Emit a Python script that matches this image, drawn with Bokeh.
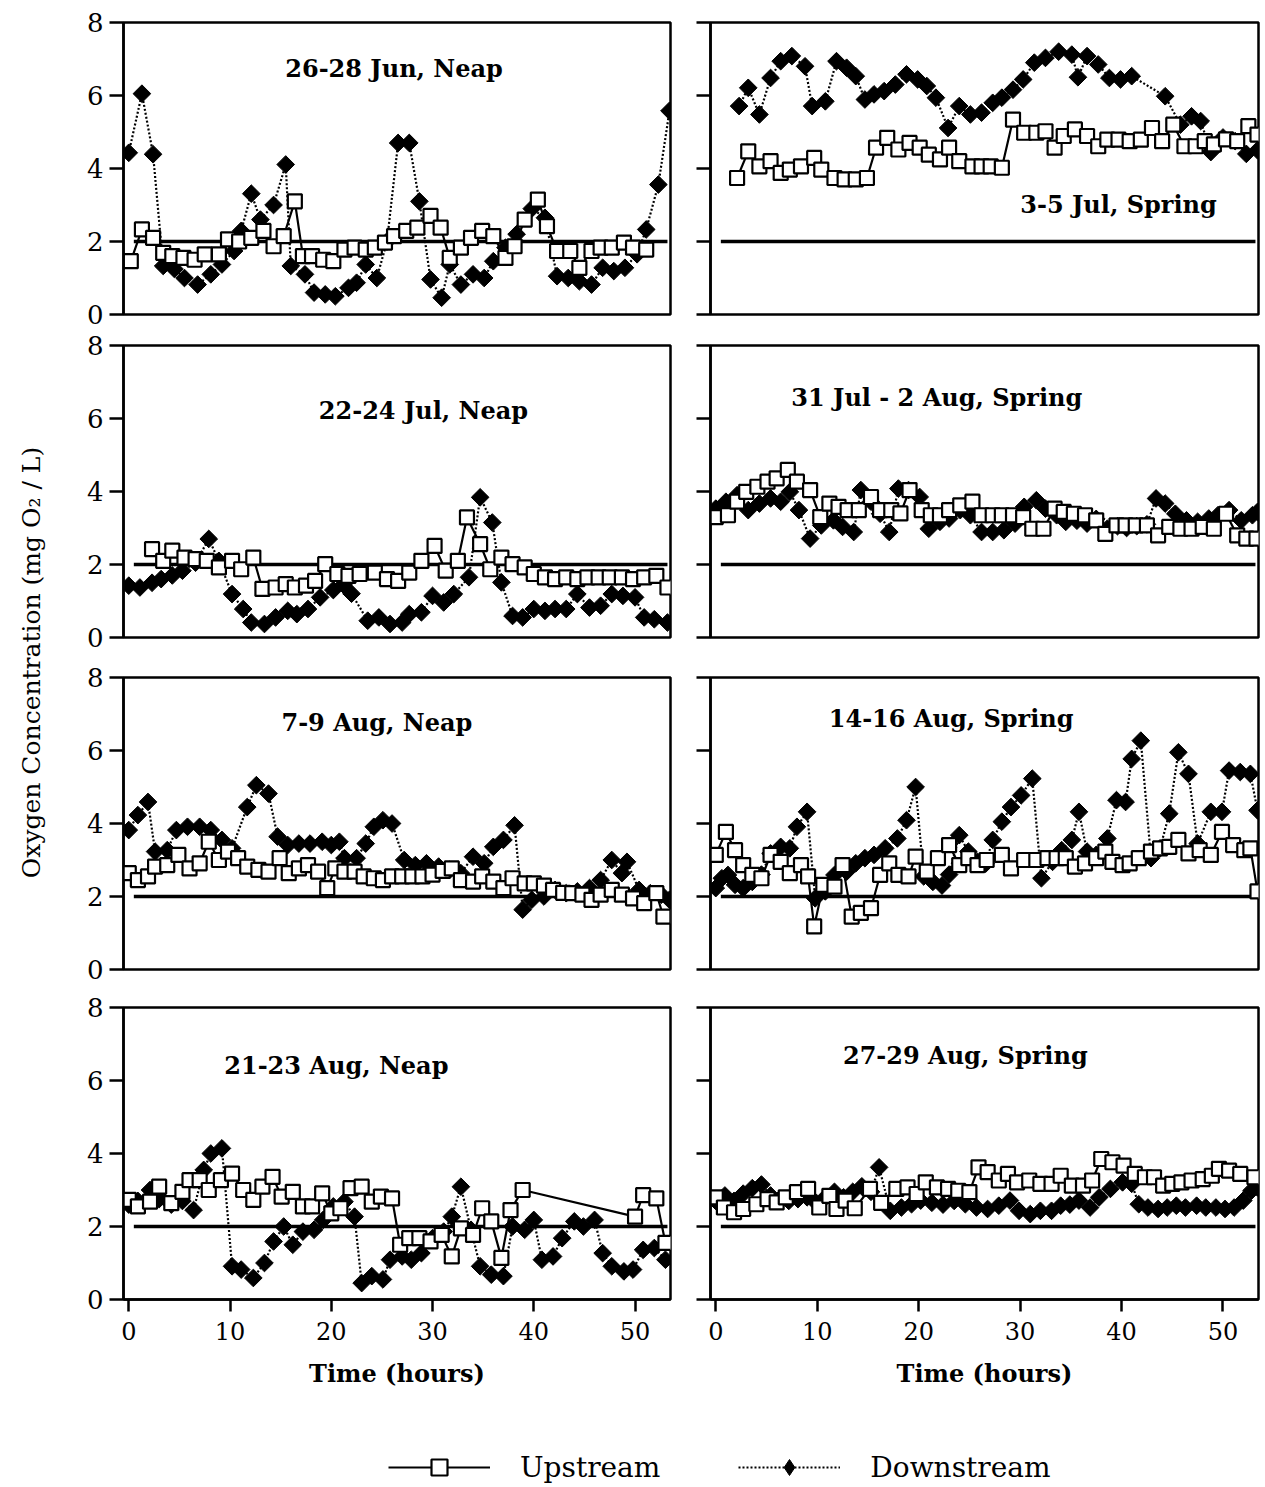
import numpy as np
from bokeh.plotting import figure
from bokeh.layouts import row, column
from bokeh.models import FixedTicker, Label, Legend, LegendItem, Range1d, CustomJSTickFormatter
from bokeh.embed import file_html
from bokeh.resources import INLINE

# ---------------- data ----------------
X_TICKS = [0, 10, 20, 30, 40, 50]
Y_TICKS = [0, 2, 4, 6, 8]
THRESHOLD_T = [0.5, 53.2]
THRESHOLD_V = [2.0, 2.0]

TITLES = ["26-28 Jun, Neap", "3-5 Jul, Spring", "22-24 Jul, Neap", "31 Jul -  2 Aug, Spring",
          "7-9 Aug, Neap", "14-16 Aug, Spring", "21-23 Aug, Neap", "27-29 Aug, Spring"]
Y_TITLE = "Oxygen Concentration (mg O\u2082 / L)"
X_TITLE = "Time (hours)"
SERIES = ["Upstream", "Downstream"]

P1_UP_T = [0.2,1.3,2.4,3.4,4.3,5.4,6.5,7.5,8.9,9.8,10.9,12.1,13.3,14.3,15.3,16.4,17.2,18.1,19.2,20.2,21.3,22.3,23.4,24.3,25.3,26.2,27.4,28.5,29.8,30.8,31.7,32.8,33.8,34.9,36.0,37.2,38.1,39.1,40.4,41.3,42.3,43.6,44.5,45.7,46.6,47.7,48.9,49.8,51.1]
P1_UP_V = [1.46,2.33,2.1,1.69,1.6,1.55,1.5,1.65,1.65,2.06,2.0,2.1,2.29,1.87,2.15,3.1,1.6,1.6,1.5,1.46,1.78,1.83,1.78,1.83,1.97,2.15,2.29,2.38,2.7,2.38,1.55,1.83,2.1,2.29,2.15,1.55,1.87,2.6,3.15,2.42,1.74,1.74,1.28,1.74,1.83,1.83,1.97,1.83,1.78]
P1_DN_T = [0.0,1.3,2.4,3.4,4.5,5.5,6.8,8.1,9.2,10.4,11.1,12.1,13.0,14.3,15.5,16.0,17.4,18.3,19.4,20.4,21.7,22.5,23.4,24.5,25.5,26.6,27.7,28.7,29.8,30.9,31.7,32.8,34.0,35.1,36.0,37.2,38.3,39.8,41.1,42.3,43.4,44.5,45.7,46.8,47.9,49.0,50.2,51.1,52.3,53.4]
P1_DN_V = [4.43,6.05,4.39,1.33,1.25,1.0,0.82,1.1,1.37,1.74,2.29,3.31,2.6,3.0,4.11,1.33,1.1,0.6,0.55,0.5,0.73,0.87,1.37,1.0,2.0,4.7,4.7,3.1,0.96,0.46,1.37,0.82,1.1,1.0,1.46,1.83,2.2,2.9,2.65,1.05,1.0,0.91,0.82,1.28,1.19,1.28,1.65,2.33,3.56,5.58]

P2_UP_T = [2.1,3.2,4.3,5.4,6.4,7.3,8.4,9.7,10.4,11.7,12.7,13.8,14.9,15.8,16.9,18.0,19.1,20.1,21.0,22.1,23.0,24.0,25.3,26.2,27.1,28.2,29.3,30.4,31.6,32.5,33.4,34.3,35.4,36.6,37.7,38.6,39.7,40.8,41.9,43.0,44.0,45.1,46.2,47.3,48.2,49.1,50.3,51.4,52.5,53.4]
P2_UP_V = [3.74,4.47,4.06,4.2,3.88,3.97,4.06,4.29,3.97,3.74,3.7,3.7,3.74,4.57,4.84,4.52,4.7,4.57,4.38,4.25,4.57,4.2,4.06,4.06,4.06,4.02,5.34,4.98,4.98,5.02,4.57,4.89,5.07,4.89,4.61,4.79,4.79,4.75,4.79,5.11,4.75,5.2,4.61,4.61,4.75,4.66,4.8,4.75,5.16,4.93]
P2_DN_T = [2.3,3.2,4.3,5.4,6.4,7.5,8.8,9.5,10.8,11.9,12.9,13.8,14.7,15.6,16.6,17.7,18.8,19.9,20.8,21.7,22.9,24.0,25.1,26.2,27.3,28.2,29.3,30.3,31.4,32.5,33.8,35.1,35.7,36.6,37.7,38.8,39.9,41.0,44.3,45.8,46.9,47.8,48.8,50.0,51.2,52.3,53.4]
P2_DN_V = [5.71,6.21,5.48,6.48,6.94,7.08,6.8,5.71,5.84,6.94,6.76,6.53,5.89,6.03,6.12,6.3,6.58,6.44,6.26,5.94,5.11,5.71,5.48,5.53,5.8,5.94,6.16,6.44,6.9,7.03,7.2,7.12,6.5,7.08,6.85,6.48,6.44,6.53,5.98,5.2,5.43,5.3,4.45,4.85,4.75,4.4,4.5]

P3_UP_T = [2.3,3.4,4.3,5.5,6.6,7.7,8.9,10.2,11.1,12.3,13.2,14.5,15.5,16.4,17.5,18.4,19.4,20.6,21.7,22.8,24.3,25.5,26.6,27.7,28.9,30.2,31.3,32.5,33.4,34.7,35.7,36.8,37.9,39.1,40.0,41.1,42.1,43.2,44.3,45.3,46.4,47.5,48.7,49.8,50.9,52.1,53.2]
P3_UP_V = [2.42,2.1,2.38,2.19,2.15,2.1,1.92,2.1,1.87,2.19,1.33,1.37,1.46,1.37,1.42,1.55,2.01,1.74,1.69,1.74,1.78,1.6,1.55,1.78,2.1,2.51,1.83,2.1,3.29,2.56,1.87,2.19,2.01,1.92,1.74,1.65,1.6,1.65,1.6,1.65,1.65,1.65,1.65,1.6,1.65,1.69,1.37]
P3_DN_T = [0.0,1.1,2.3,3.2,4.3,5.3,6.6,7.9,8.9,10.2,11.3,12.1,13.4,14.5,15.7,16.6,17.7,18.9,20.2,21.2,22.0,23.6,24.7,25.8,27.0,27.7,28.9,30.0,31.1,32.1,33.6,34.7,35.9,36.8,37.9,38.9,40.0,41.1,42.1,43.2,44.3,45.5,46.6,47.7,48.8,50.0,50.9,51.9,53.2]
P3_DN_V = [1.42,1.37,1.5,1.6,1.7,1.83,2.05,2.7,2.1,1.19,0.78,0.41,0.37,0.55,0.73,0.64,0.78,1.1,1.3,1.45,1.2,0.46,0.55,0.37,0.41,0.64,0.69,1.14,0.96,1.19,1.65,3.84,3.15,1.51,0.59,0.55,0.78,0.73,0.78,0.78,1.19,0.82,0.87,1.19,1.14,1.1,0.55,0.5,0.41]

P4_UP_T = [0.0,1.2,2.1,3.0,4.1,5.1,6.0,7.1,8.0,9.3,10.3,11.2,12.1,13.0,14.1,15.3,16.2,17.3,18.2,19.1,20.3,21.2,22.1,23.0,24.1,25.3,26.2,27.3,28.2,29.3,30.3,31.2,32.3,33.4,34.3,35.3,36.4,37.5,38.4,39.5,40.4,41.4,42.5,43.6,44.7,45.8,46.9,48.0,49.1,50.3,51.4,52.3,53.3]
P4_UP_V = [3.3,3.35,3.72,3.99,4.13,4.27,4.36,4.59,4.27,4.04,3.3,3.67,3.58,3.49,3.49,3.85,3.49,3.49,3.4,4.04,3.49,3.35,3.35,3.49,3.62,3.72,3.35,3.35,3.35,3.35,3.3,2.98,2.98,3.53,3.44,3.39,3.35,3.21,2.84,3.07,3.07,3.07,3.07,2.8,3.03,2.98,2.98,3.03,2.98,3.39,2.8,2.71,2.71]
P4_DN_T = [0.0,1.0,2.1,3.2,4.3,5.4,6.4,7.3,8.2,9.3,10.4,11.6,12.5,13.6,14.3,15.3,16.2,17.1,18.0,19.0,20.1,21.0,22.1,23.0,24.1,25.1,26.2,27.3,28.4,29.5,30.4,31.6,32.5,33.6,34.5,35.6,36.6,37.5,38.6,39.6,40.5,41.5,42.5,43.4,44.3,45.3,46.4,47.5,48.6,49.5,50.6,51.8,52.9,53.4]
P4_DN_V = [3.53,3.72,3.9,3.49,3.67,3.81,3.72,3.99,3.49,2.71,3.07,3.21,3.03,2.89,4.04,3.72,3.39,2.89,4.08,4.04,3.85,2.98,3.17,3.26,3.49,3.35,2.89,2.89,2.94,3.12,3.58,3.76,3.53,3.35,3.17,3.2,3.12,3.25,2.98,3.05,3.0,3.05,3.1,3.81,3.67,3.39,3.21,3.17,3.26,3.35,3.49,3.21,3.35,3.44]

P5_UP_T = [0.0,0.9,1.9,2.6,3.8,4.9,6.0,7.0,7.9,8.9,9.8,10.8,11.7,12.8,13.8,14.9,15.8,16.8,17.7,18.7,19.6,20.4,21.3,22.3,23.2,24.2,25.1,26.0,27.0,28.0,29.0,30.0,31.0,31.9,32.8,34.0,34.9,36.0,37.0,37.9,39.1,40.0,41.0,41.9,42.9,43.8,44.8,45.7,46.6,47.7,48.7,49.8,50.9,52.1,52.8]
P5_UP_V = [2.64,2.45,2.55,2.82,2.86,3.14,2.77,2.91,3.5,3.0,3.23,3.05,2.82,2.73,2.68,3.05,2.64,2.77,2.86,2.68,2.23,2.77,2.68,2.68,2.55,2.5,2.45,2.55,2.55,2.55,2.55,2.6,2.7,2.77,2.45,2.41,2.55,2.41,2.23,2.5,2.36,2.36,2.3,2.18,2.1,2.09,2.05,1.91,2.05,2.18,2.05,1.95,1.82,2.09,1.45]
P5_DN_T = [0.0,0.9,1.9,2.6,3.8,4.7,5.8,7.0,8.1,9.2,10.2,11.7,12.6,13.8,14.7,15.7,16.8,17.9,19.1,20.0,20.8,21.3,22.5,23.4,24.2,25.1,26.0,27.2,28.3,29.4,30.6,31.7,32.8,34.0,35.1,36.0,37.0,38.1,38.9,39.8,41.0,42.1,43.2,44.3,45.5,46.6,47.7,48.7,49.2,50.4,51.5,52.6,53.4]
P5_DN_V = [3.82,4.23,4.59,3.23,3.27,3.82,3.91,3.91,3.82,3.55,3.32,4.45,5.05,4.82,3.64,3.41,3.45,3.45,3.5,3.41,3.5,3.05,3.05,3.45,3.91,4.09,4.0,3.0,2.86,2.91,2.82,2.73,2.64,3.09,2.91,3.36,3.55,3.95,1.64,1.91,2.0,2.18,2.09,2.14,2.23,2.45,3.0,2.64,2.95,2.18,2.09,2.05,1.91]

P6_UP_T = [0.0,1.0,1.9,2.7,3.6,4.5,5.4,6.4,7.3,8.4,9.1,9.7,10.6,11.7,12.5,13.4,14.3,15.3,16.2,17.1,18.0,19.0,19.7,20.8,21.9,23.0,24.0,24.9,25.8,26.7,28.2,29.1,30.4,31.6,32.7,33.6,34.5,35.4,36.4,37.5,38.4,39.1,40.1,40.8,41.7,42.9,43.8,44.7,45.6,46.6,47.7,48.8,49.9,51.0,52.1,52.7,53.4]
P6_UP_V = [3.14,3.77,3.27,2.86,2.59,2.5,3.14,2.95,2.64,2.86,2.55,1.18,2.32,2.27,2.86,1.45,1.55,1.68,2.59,2.91,2.59,2.55,3.09,2.68,3.05,3.41,2.86,3.05,2.86,3.0,3.14,2.77,3.0,3.0,3.05,3.05,3.05,2.82,2.91,3.05,3.23,2.95,2.86,2.91,3.05,3.23,3.32,3.36,3.55,3.18,3.27,3.14,3.77,3.41,3.27,3.32,2.14]
P6_DN_T = [0.0,0.6,1.2,1.9,2.7,3.6,4.5,5.4,6.4,7.3,8.0,9.0,9.8,10.8,11.7,12.9,13.8,14.7,15.6,16.7,17.9,18.8,19.7,20.5,21.4,22.3,23.0,24.0,24.9,25.8,26.6,27.3,28.2,29.1,30.1,31.2,32.1,33.2,34.1,35.1,35.8,36.6,37.5,38.6,39.5,40.4,41.0,41.9,42.9,43.8,44.7,45.6,46.6,47.5,48.8,49.9,50.6,51.7,52.7,53.4]
P6_DN_V = [2.23,2.5,2.59,2.32,2.23,2.4,2.6,3.18,3.36,3.32,3.91,4.32,1.95,2.14,2.59,2.68,2.91,3.05,3.14,3.32,3.59,4.09,5.0,2.55,2.4,2.3,2.6,3.68,3.23,2.95,2.9,3.55,4.05,4.45,4.77,5.23,2.5,2.95,3.27,3.55,4.32,3.23,3.14,3.59,4.64,4.59,5.77,6.27,3.05,3.32,4.27,5.95,5.36,3.45,4.32,4.32,5.45,5.41,5.36,4.36]

P7_UP_T = [0.0,0.9,2.1,3.0,4.2,5.3,6.0,7.0,7.9,9.1,10.2,11.3,12.3,13.2,14.2,15.1,16.2,17.2,18.1,19.1,20.0,20.9,21.9,23.0,24.0,24.9,26.0,26.8,27.7,28.7,29.8,30.9,31.9,32.8,34.0,34.9,35.8,36.8,37.7,38.9,50.0,50.8,52.1,53.0]
P7_UP_V = [2.73,2.55,2.68,3.09,2.64,2.95,3.27,3.27,3.0,3.27,3.45,3.0,2.73,3.09,3.36,2.82,2.95,2.55,2.55,2.91,2.36,2.5,3.05,3.09,2.68,2.82,2.77,1.5,1.68,1.68,1.59,1.77,1.18,1.95,1.77,2.5,2.14,1.14,2.45,3.0,2.27,2.86,2.77,1.55]
P7_DN_T = [0.0,0.9,2.1,3.0,4.2,5.3,6.4,7.4,8.1,9.2,10.2,11.1,12.3,13.4,14.3,15.3,16.2,17.2,18.3,19.2,20.2,21.3,22.3,23.0,24.0,25.1,25.8,27.0,27.9,28.9,30.0,31.1,31.9,32.8,33.8,34.7,35.8,37.0,37.9,39.1,40.0,40.8,41.9,42.8,44.0,44.9,46.0,46.8,47.7,48.9,49.8,50.8,51.9,53.0]
P7_DN_V = [2.6,2.7,3.0,2.75,2.6,2.7,2.45,3.55,4.0,4.14,0.91,0.82,0.59,1.0,1.59,2.0,1.5,1.86,1.91,2.18,2.55,2.68,2.27,0.45,0.64,0.55,1.09,1.18,1.09,1.27,1.68,1.86,2.27,3.09,1.91,0.91,0.68,0.64,2.0,1.91,2.18,1.09,1.18,1.68,2.14,2.0,2.18,1.27,0.91,0.77,0.82,1.36,1.41,1.09]

P8_UP_T = [0.0,0.8,1.8,2.7,4.0,5.1,6.0,6.9,8.0,9.1,10.2,11.2,11.9,12.8,13.7,15.2,16.3,17.8,18.9,19.8,20.7,21.8,22.9,23.9,25.0,25.9,26.8,27.9,28.8,29.7,30.9,32.0,33.1,34.0,35.1,36.2,37.1,38.0,39.1,40.2,41.3,42.3,43.2,44.1,45.0,45.9,46.9,48.0,48.9,49.6,50.6,51.7,53.1]
P8_UP_V = [2.8,2.52,2.39,2.48,2.61,2.75,2.66,2.8,2.94,3.03,2.52,2.84,2.48,2.71,2.5,3.03,2.65,3.03,3.07,2.89,3.21,3.07,3.03,2.98,2.94,3.62,3.49,3.26,3.44,3.21,3.26,3.17,3.17,3.39,3.12,3.12,3.26,3.85,3.76,3.67,3.44,3.35,3.35,3.12,3.17,3.21,3.26,3.3,3.39,3.58,3.53,3.44,3.35]
P8_DN_T = [0.0,0.9,1.8,2.7,3.6,4.5,5.4,6.3,7.2,8.1,9.0,9.9,10.8,11.7,12.6,13.5,14.4,15.3,16.1,17.2,18.3,19.3,20.2,21.3,22.4,23.5,24.6,25.7,26.8,27.9,29.0,29.9,31.0,32.0,33.1,34.0,34.9,35.8,36.9,37.8,38.9,40.1,41.0,41.7,42.6,43.6,44.5,45.4,46.3,47.4,48.3,49.3,50.2,51.1,52.0,52.8,53.4]
P8_DN_V = [2.7,2.85,2.7,2.9,3.05,3.15,2.85,2.75,2.7,2.75,2.8,2.65,2.8,2.95,2.8,2.95,3.1,2.95,3.62,2.43,2.52,2.61,2.71,2.65,2.6,2.7,2.61,2.52,2.48,2.57,2.71,2.43,2.34,2.43,2.43,2.57,2.6,2.71,2.52,2.8,3.03,3.21,3.17,2.61,2.52,2.48,2.52,2.57,2.52,2.57,2.52,2.52,2.48,2.52,2.71,2.98,3.07]

PANELS = [
    (P1_UP_T, P1_UP_V, P1_DN_T, P1_DN_V), (P2_UP_T, P2_UP_V, P2_DN_T, P2_DN_V),
    (P3_UP_T, P3_UP_V, P3_DN_T, P3_DN_V), (P4_UP_T, P4_UP_V, P4_DN_T, P4_DN_V),
    (P5_UP_T, P5_UP_V, P5_DN_T, P5_DN_V), (P6_UP_T, P6_UP_V, P6_DN_T, P6_DN_V),
    (P7_UP_T, P7_UP_V, P7_DN_T, P7_DN_V), (P8_UP_T, P8_UP_V, P8_DN_T, P8_DN_V),
]

# ---------------- layout / style (not data) ----------------
TITLE_POS = [(26.2, 6.73), (39.7, 3.02), (29.1, 6.22), (22.2, 6.58),
             (24.5, 6.78), (23.2, 6.89), (20.5, 6.42), (24.6, 6.69)]
FONT = "DejaVu Serif"
X_RANGE = (-0.52, 53.5)
BORDERS_TB = [(22, 16), (15, 20), (20, 17), (21, 111)]


def make_panel(i):
    up_t, up_v, dn_t, dn_v = PANELS[i]
    assert len(up_t) == len(up_v) and len(dn_t) == len(dn_v), i
    left = (i % 2 == 0)
    r = i // 2
    bottom = (r == 3)
    top_b, bot_b = BORDERS_TB[r]
    p = figure(frame_width=547 if left else 548, frame_height=292,
               x_range=Range1d(*X_RANGE), y_range=Range1d(0, 8),
               output_backend="svg", toolbar_location=None,
               min_border_left=63 if left else 30, min_border_right=10 if left else 7,
               min_border_top=top_b, min_border_bottom=bot_b)
    p.grid.visible = False
    p.outline_line_color = "black"
    p.outline_line_width = 2.5
    p.background_fill_color = "white"
    p.border_fill_color = "white"

    p.line(THRESHOLD_T, THRESHOLD_V, line_color="black", line_width=3.5)
    p.line(dn_t, dn_v, line_color="black", line_width=2.2, line_dash="2 2")
    p.scatter(dn_t, dn_v, marker="square", angle=np.pi / 4, size=12.5,
              fill_color="black", line_color="black", line_width=1)
    p.line(up_t, up_v, line_color="black", line_width=2.2)
    p.scatter(up_t, up_v, marker="square", size=14, fill_color="white",
              line_color="black", line_width=2.2)

    yax = p.yaxis[0]
    yax.ticker = FixedTicker(ticks=Y_TICKS)
    yax.major_tick_out = 14
    yax.major_tick_in = 0
    yax.minor_tick_out = 0
    yax.minor_tick_in = 0
    yax.axis_line_width = 2.5
    yax.major_tick_line_width = 2.5
    yax.major_label_standoff = 6
    yax.major_label_text_font = FONT
    yax.major_label_text_font_size = "26px"
    yax.major_label_text_color = "black"
    if not left:
        yax.formatter = CustomJSTickFormatter(code="return ''")

    xax = p.xaxis[0]
    if bottom:
        xax.ticker = FixedTicker(ticks=X_TICKS)
        xax.major_tick_out = 12
        xax.major_tick_in = 0
        xax.minor_tick_out = 0
        xax.minor_tick_in = 0
        xax.axis_line_width = 2.5
        xax.major_tick_line_width = 2.5
        xax.major_label_standoff = 10
        xax.major_label_text_font = FONT
        xax.major_label_text_font_size = "24px"
        xax.major_label_text_color = "black"
        xax.axis_label = X_TITLE
        xax.axis_label_text_font = FONT
        xax.axis_label_text_font_style = "bold"
        xax.axis_label_text_font_size = "24px"
        xax.axis_label_text_color = "black"
        xax.axis_label_standoff = 16
    else:
        xax.visible = False

    tx, ty = TITLE_POS[i]
    p.add_layout(Label(x=tx, y=ty, text=TITLES[i], text_font=FONT,
                       text_font_style="bold", text_font_size="24px",
                       text_align="center", text_baseline="middle", text_color="black"))
    return p


panels = [make_panel(i) for i in range(8)]
grid = column(*[row(panels[2 * r], panels[2 * r + 1]) for r in range(4)])

# y-axis title strip
yt = figure(width=60, height=1410, output_backend="svg", toolbar_location=None,
            x_range=Range1d(0, 1), y_range=Range1d(0, 1),
            min_border_left=0, min_border_right=0, min_border_top=0, min_border_bottom=0)
yt.axis.visible = False
yt.grid.visible = False
yt.outline_line_color = None
yt.add_layout(Label(x=31, y=1410 - 662, x_units="screen", y_units="screen",
                    text=Y_TITLE, angle=np.pi / 2, text_font=FONT,
                    text_font_size="25px", text_align="center", text_baseline="middle",
                    text_color="black"))

# legend strip (proxy renderers hold a single NaN so only their legend glyph shows)
lg = figure(width=1265, height=77, output_backend="svg", toolbar_location=None,
            x_range=Range1d(0, 1), y_range=Range1d(0, 1),
            min_border_left=0, min_border_right=0, min_border_top=0, min_border_bottom=0)
lg.axis.visible = False
lg.grid.visible = False
lg.outline_line_color = None
NAN = [np.nan]
l_up = lg.line(NAN, NAN, line_color="black", line_width=2.2)
s_up = lg.scatter(NAN, NAN, marker="square", size=14, fill_color="white", line_color="black", line_width=2.2)
l_dn = lg.line(NAN, NAN, line_color="black", line_width=2.2, line_dash="2 2")
s_dn = lg.scatter(NAN, NAN, marker="diamond", size=22, fill_color="black", line_color="black")
legend = Legend(items=[LegendItem(label=SERIES[0], renderers=[l_up, s_up]),
                       LegendItem(label=SERIES[1], renderers=[l_dn, s_dn])],
                orientation="horizontal", location=(388, 0),
                glyph_width=102, glyph_height=40, label_standoff=30, spacing=78,
                padding=0, margin=0, border_line_color=None,
                background_fill_alpha=0, label_text_font=FONT,
                label_text_font_size="28px", label_text_color="black")
lg.add_layout(legend)

layout = column(row(yt, grid), lg)
open("out.html", "w").write(file_html(layout, INLINE))
